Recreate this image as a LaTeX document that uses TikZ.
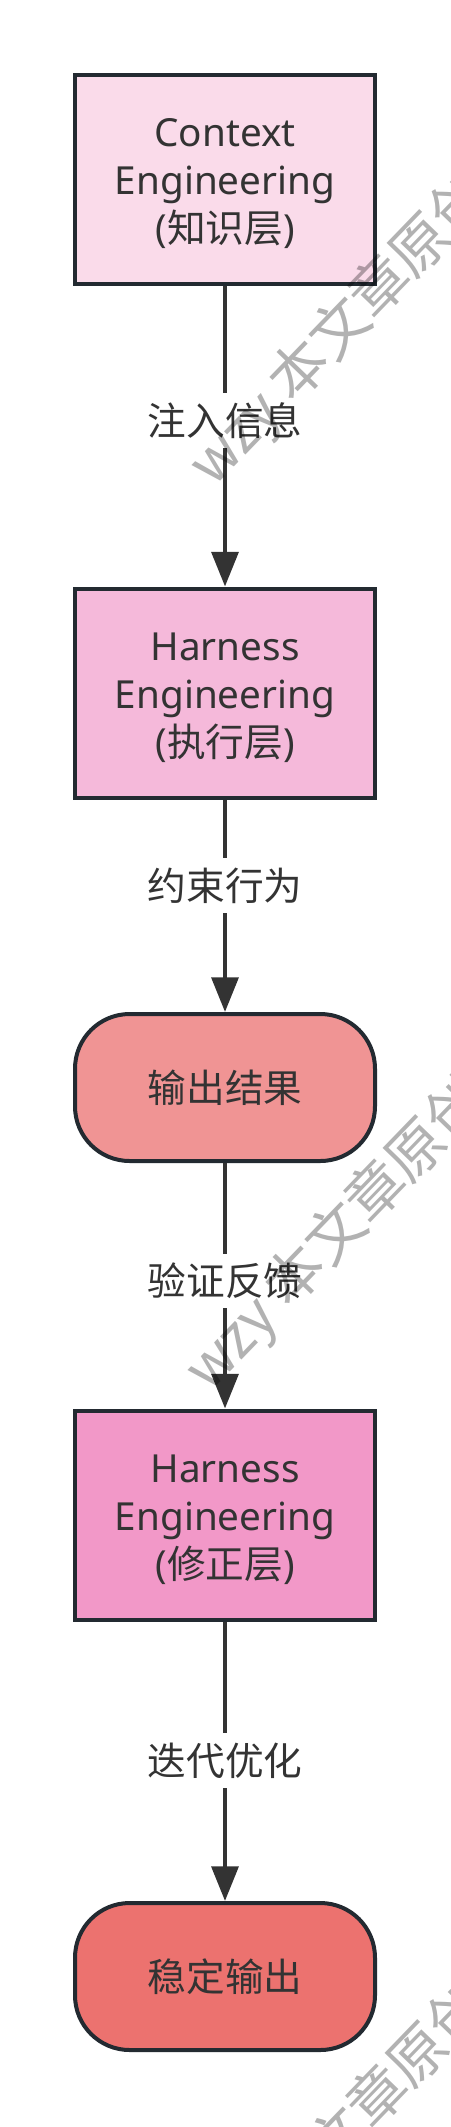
\documentclass[tikz,border=0pt]{standalone}
\usepackage{fontspec}
\setmainfont{Noto Sans}
\newfontfamily\cjk{Noto Sans CJK SC}
\usetikzlibrary{arrows.meta}
\definecolor{bordc}{HTML}{232A31}
\definecolor{arrc}{HTML}{333333}
\definecolor{txtc}{HTML}{333333}
\definecolor{fillA}{HTML}{FADBEA}
\definecolor{fillB}{HTML}{F5B9DA}
\definecolor{fillC}{HTML}{F09494}
\definecolor{fillD}{HTML}{F298C8}
\definecolor{fillE}{HTML}{EC726F}
\begin{document}
\begin{tikzpicture}[x=0.75pt,y=-0.75pt,
  boxnode/.style={draw=bordc, line width=3pt, minimum width=225pt, minimum height=156.75pt,
    inner sep=0pt},
  boxtext/.style={align=center, text=txtc, inner sep=0pt, font=\fontsize{29}{36}\selectfont},
  stadnode/.style={draw=bordc, line width=3pt, minimum width=225pt, minimum height=110.25pt,
    inner sep=0pt, rounded corners=41pt, text=txtc, font=\cjk\fontsize{29}{36}\selectfont},
  arr/.style={draw=arrc, line width=3.3pt, -{Triangle[width=20pt,length=26pt]}},
  lbl/.style={fill=white, text=txtc, inner xsep=2pt, inner ysep=0pt, minimum height=41pt,
    font=\cjk\fontsize{29}{36}\selectfont},
  wm/.style={text=black, text opacity=0.3, font=\cjk\fontsize{43.5}{50}\selectfont, inner sep=0pt}]
\useasboundingbox (0,0) rectangle (450,2127);
\clip (0,0) rectangle (450,2127);
\fill[white] (0,0) rectangle (450,2127);

\node[boxnode, fill=fillA] (b1) at (225,179.5) {};
\node[boxtext] (t1) at (225,184) {Context\\Engineering\\({\cjk 知识层})};
\node[boxnode, fill=fillB] (b2) at (225,693) {};
\node[boxtext] (t2) at (225,697.5) {Harness\\Engineering\\({\cjk 执行层})};
\node[stadnode, fill=fillC] (s1) at (225,1087.5) {输出结果};
\node[boxnode, fill=fillD] (b3) at (225,1515) {};
\node[boxtext] (t3) at (225,1519.5) {Harness\\Engineering\\({\cjk 修正层})};
\node[stadnode, fill=fillE] (s2) at (225,1976.5) {稳定输出};

\draw[arr] (b1.south) -- (b2.north);
\draw[arr] (b2.south) -- (s1.north);
\draw[arr] (s1.south) -- (b3.north);
\draw[arr] (b3.south) -- (s2.north);

\node[lbl] (l1) at (225,420.5) {注入信息};
\node[lbl] (l2) at (225,885.5) {约束行为};
\node[lbl] (l3) at (225,1281) {验证反馈};
\node[lbl] (l4) at (225,1760.5) {迭代优化};

\node[wm, anchor=base west, rotate=46] (w1) at (213,489) {wzy 本文章原创};
\node[wm, anchor=base west, rotate=46] (w2) at (209,1394) {wzy 本文章原创};
\node[wm, anchor=base west, rotate=46] (w3) at (211,2299) {wzy 本文章原创};
\end{tikzpicture}
\end{document}
